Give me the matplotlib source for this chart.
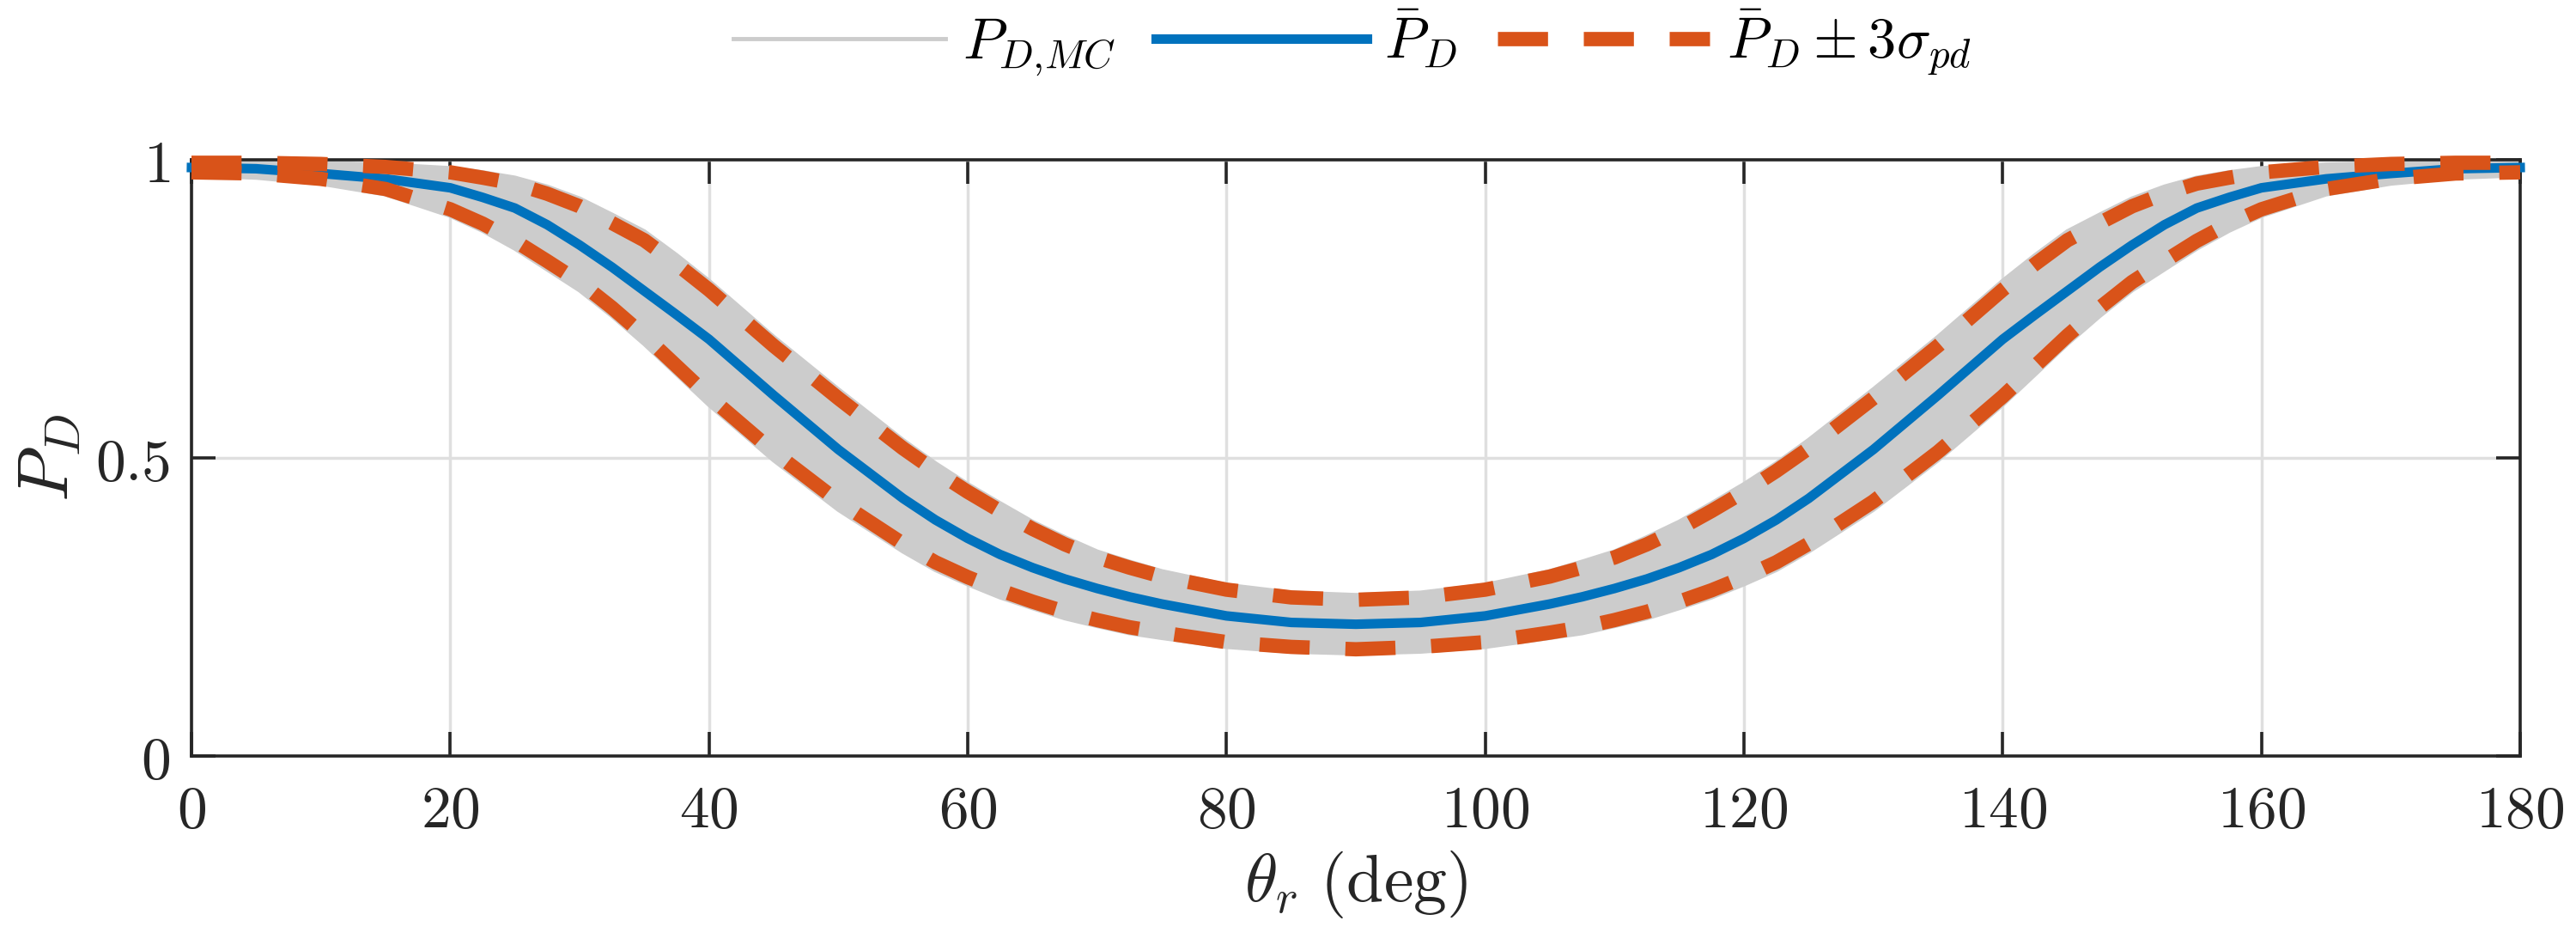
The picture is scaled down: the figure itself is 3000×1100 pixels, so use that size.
import matplotlib
matplotlib.use("Agg")
import matplotlib.pyplot as plt
from matplotlib.lines import Line2D

plt.rcParams['mathtext.fontset'] = 'cm'
plt.rcParams['font.family'] = ['DejaVu Serif']

# ---------------- data ----------------
theta = [0, 5, 10, 15, 20, 22.5, 25, 27.5, 30, 32.5, 35, 37.5, 40, 45, 50, 55, 57.5,
         60, 62.5, 65, 67.5, 70, 72.5, 75, 80, 85, 90,
         95, 100, 105, 107.5, 110, 112.5, 115, 117.5, 120, 122.5, 125, 130, 135,
         140, 142.5, 145, 147.5, 150, 152.5, 155, 157.5, 160, 165, 170, 175, 180]

pd_mean = [0.987, 0.985, 0.977, 0.968, 0.953, 0.937, 0.919, 0.891, 0.857, 0.820,
           0.780, 0.740, 0.699, 0.605, 0.514, 0.432, 0.396, 0.365, 0.338, 0.316,
           0.297, 0.281, 0.267, 0.255, 0.235, 0.224, 0.221,
           0.224, 0.235, 0.255, 0.267, 0.281, 0.297, 0.316, 0.338, 0.365, 0.396,
           0.432, 0.514, 0.605, 0.699, 0.740, 0.780, 0.820, 0.857, 0.891, 0.919,
           0.937, 0.953, 0.968, 0.977, 0.985, 0.987]

pd_upper = [0.995, 0.995, 0.993, 0.988, 0.979, 0.970, 0.960, 0.943, 0.922, 0.894,
            0.865, 0.825, 0.782, 0.688, 0.600, 0.516, 0.478, 0.443, 0.411, 0.381,
            0.355, 0.333, 0.316, 0.301, 0.279, 0.266, 0.262,
            0.266, 0.279, 0.301, 0.316, 0.333, 0.355, 0.381, 0.411, 0.443, 0.478,
            0.516, 0.600, 0.688, 0.782, 0.825, 0.865, 0.894, 0.922, 0.943, 0.960,
            0.970, 0.979, 0.988, 0.993, 0.995, 0.995]

pd_lower = [0.979, 0.977, 0.968, 0.951, 0.917, 0.893, 0.864, 0.830, 0.795, 0.752,
            0.705, 0.654, 0.603, 0.510, 0.427, 0.356, 0.325, 0.300, 0.278, 0.259,
            0.242, 0.228, 0.216, 0.207, 0.191, 0.183, 0.179,
            0.183, 0.191, 0.207, 0.216, 0.228, 0.242, 0.259, 0.278, 0.300, 0.325,
            0.356, 0.427, 0.510, 0.603, 0.654, 0.705, 0.752, 0.795, 0.830, 0.864,
            0.893, 0.917, 0.951, 0.968, 0.977, 0.979]

mc_high = [0.996, 0.996, 0.995, 0.992, 0.986, 0.979, 0.970, 0.955, 0.935, 0.908,
           0.880, 0.840, 0.797, 0.703, 0.615, 0.530, 0.491, 0.456, 0.424, 0.393,
           0.367, 0.343, 0.326, 0.310, 0.287, 0.274, 0.270,
           0.274, 0.287, 0.310, 0.326, 0.343, 0.367, 0.393, 0.424, 0.456, 0.491,
           0.530, 0.615, 0.703, 0.797, 0.840, 0.880, 0.908, 0.935, 0.955, 0.970,
           0.979, 0.986, 0.992, 0.995, 0.996, 0.996]

mc_low = [0.974, 0.970, 0.960, 0.942, 0.906, 0.881, 0.851, 0.816, 0.781, 0.738,
          0.691, 0.640, 0.589, 0.496, 0.413, 0.343, 0.312, 0.288, 0.266, 0.248,
          0.231, 0.218, 0.206, 0.198, 0.183, 0.175, 0.172,
          0.175, 0.183, 0.198, 0.206, 0.218, 0.231, 0.248, 0.266, 0.288, 0.312,
          0.343, 0.413, 0.496, 0.589, 0.640, 0.691, 0.738, 0.781, 0.816, 0.851,
          0.881, 0.906, 0.942, 0.960, 0.970, 0.974]

xticks = [0, 20, 40, 60, 80, 100, 120, 140, 160, 180]
yticks = [0, 0.5, 1]

# ---------------- styling ----------------
BLUE = '#0072BD'
ORANGE = '#D95319'
GRAY = '#CCCCCC'
AXC = '#262626'

fig = plt.figure(figsize=(30, 11), dpi=100)
ax = fig.add_axes([223/3000, 220/1100, (2935-223)/3000, (880-186)/1100])

ax.fill_between(theta, mc_low, mc_high, color=GRAY, lw=0, zorder=1)
ax.plot(theta, mc_high, color=GRAY, lw=3.5, zorder=1)
ax.plot(theta, mc_low, color=GRAY, lw=3.5, zorder=1)
ax.plot(theta, pd_mean, color=BLUE, lw=8, zorder=3, clip_on=False)
ls_d = (0, (3.5, 2.5))
ax.plot(theta, pd_upper, color=ORANGE, lw=12, ls=ls_d, zorder=4, clip_on=False,
        dash_capstyle='butt')
ax.plot(theta, pd_lower, color=ORANGE, lw=12, ls=ls_d, zorder=4, clip_on=False,
        dash_capstyle='butt')

ax.set_xlim(0, 180)
ax.set_ylim(0, 1)
ax.set_xticks(xticks)
ax.set_xticklabels([f'${t:g}$' for t in xticks])
ax.set_yticks(yticks)
ax.set_yticklabels([f'${t:g}$' for t in yticks])

ax.grid(True, color='#DFDFDF', lw=2.5)
ax.set_axisbelow(True)
for s in ax.spines.values():
    s.set_linewidth(2.6)
    s.set_color(AXC)
ax.tick_params(axis='both', which='both', direction='in', length=20, width=2.6,
               color=AXC, labelsize=50, labelcolor=AXC, top=True, right=True)
ax.tick_params(axis='x', pad=22)
ax.tick_params(axis='y', pad=18)

ax.set_xlabel(r'$\theta_r\ \mathrm{(deg)}$', fontsize=56, color=AXC, labelpad=8)
ax.set_ylabel(r'$P_D$', fontsize=60, color=AXC, labelpad=10)

handles = [
    Line2D([], [], color=GRAY, lw=3.5),
    Line2D([], [], color=BLUE, lw=8),
    Line2D([], [], color=ORANGE, lw=12, ls=ls_d, dash_capstyle='butt'),
]
labels = [r'$P_{D,\!MC}$', r'$\bar{P}_D$', r'$\bar{P}_D \pm 3\sigma_{pd}$']
fig.legend(handles, labels, loc='center', bbox_to_anchor=(0.525, 0.955), ncol=3,
           frameon=False, fontsize=48, handlelength=3.7, handletextpad=0.3,
           columnspacing=0.7)

fig.savefig('out.png', dpi=100, facecolor='white')
